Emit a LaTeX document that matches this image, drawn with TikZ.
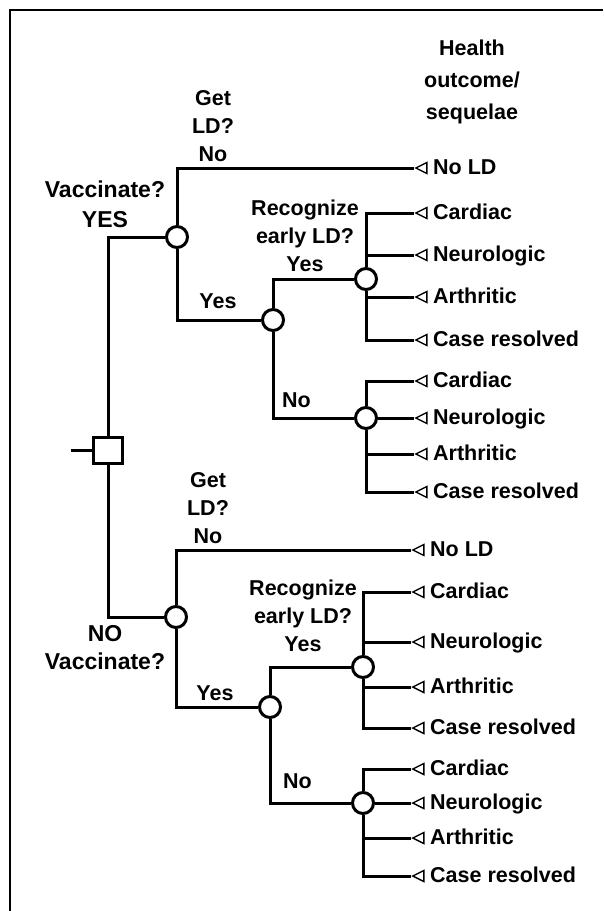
\documentclass[tikz,border=0pt]{standalone}
\usepackage{fontspec}
\setmainfont{Liberation Sans}
\usetikzlibrary{shapes.geometric}

\begin{document}
\begin{tikzpicture}[x=1pt,y=-1pt,
	branch/.style={line width=3pt},
	chance/.style={circle,draw,line width=3pt,fill=white,minimum size=21pt,inner sep=0pt},
	decide/.style={rectangle,draw,line width=3pt,fill=white,minimum width=29pt,minimum height=26pt,inner sep=0pt},
	leaf/.style={isosceles triangle,isosceles triangle stretches,shape border rotate=180,draw,line width=1.4pt,minimum width=11pt,minimum height=11pt,inner sep=0pt,anchor=apex},
	txt/.style={font=\fontsize{21.5}{28}\selectfont\bfseries,inner sep=0pt,align=center}]
	\useasboundingbox (0,0) rectangle (603,911);
	\draw[line width=1.3pt] (10,911)--(10,10)--(603,10);
	
	% decision and chance nodes
	\coordinate (root) at (71,450);
	\node[decide] (dec) at (108,450) {};
	\node[chance] (c1) at (177,237) {};
	\node[chance] (c2) at (273,320) {};
	\node[chance] (c3) at (366,279) {};
	\node[chance] (c4) at (366,418) {};
	\node[chance] (c5) at (176,617) {};
	\node[chance] (c6) at (270,707) {};
	\node[chance] (c7) at (363,667) {};
	\node[chance] (c8) at (363,803) {};
	
	% outcomes
	\foreach \n/\x/\y/\t in {vno/414/168/No LD,
		va1/414/213/Cardiac,va2/414/255/Neurologic,va3/414/297/Arthritic,va4/414/340/Case resolved,
		vb1/414/381/Cardiac,vb2/414/418/Neurologic,vb3/414/454/Arthritic,vb4/414/492/Case resolved,
		nno/411/550/No LD,
		na1/411/592/Cardiac,na2/411/642/Neurologic,na3/411/687/Arthritic,na4/411/728/Case resolved,
		nb1/411/769/Cardiac,nb2/411/803/Neurologic,nb3/411/838/Arthritic,nb4/411/876/Case resolved}{
		\node[leaf] (\n) at (\x,\y) {};
		\node[txt,anchor=base west] (\n-t) at (\x+19,\y+6) {\t};
	}
	
	% branches
	\draw[branch] (root)--(dec.west);
	\draw[branch] (dec.north) |- (c1.west);
	\draw[branch] (dec.south) |- (c5.west);
	\draw[branch] (c1.north) |- (vno.apex);
	\draw[branch] (c1.south) |- (c2.west);
	\draw[branch] (c2.north) |- (c3.west);
	\draw[branch] (c2.south) |- (c4.west);
	\draw[branch] (c3.north) |- (va1.apex) (c3.north) |- (va2.apex)
		(c3.south) |- (va3.apex) (c3.south) |- (va4.apex);
	\draw[branch] (c4.north) |- (vb1.apex) (c4.east) -- (vb2.apex)
		(c4.south) |- (vb3.apex) (c4.south) |- (vb4.apex);
	\draw[branch] (c5.north) |- (nno.apex);
	\draw[branch] (c5.south) |- (c6.west);
	\draw[branch] (c6.north) |- (c7.west);
	\draw[branch] (c6.south) |- (c8.west);
	\draw[branch] (c7.north) |- (na1.apex) (c7.north) |- (na2.apex)
		(c7.south) |- (na3.apex) (c7.south) |- (na4.apex);
	\draw[branch] (c8.north) |- (nb1.apex) (c8.east) -- (nb2.apex)
		(c8.south) |- (nb3.apex) (c8.south) |- (nb4.apex);
	
	% labels
	\node[txt,font=\fontsize{21.5}{32}\selectfont\bfseries,anchor=north] (head) at (472,40) {Health\\outcome/\\sequelae};
	\node[txt,font=\fontsize{23}{30}\selectfont\bfseries,anchor=north] (vacy) at (105,181) {Vaccinate?\\YES};
	\node[txt,anchor=north] (getv) at (213,90) {Get\\LD?\\No};
	\node[txt,anchor=north] (recv) at (305,200) {Recognize\\early LD?\\Yes};
	\node[txt,anchor=base] (yesv) at (218,308) {Yes};
	\node[txt,anchor=base west] (nov) at (282,407) {No};
	\node[txt,font=\fontsize{23}{28}\selectfont\bfseries,anchor=north] (vacn) at (105,625) {NO\\Vaccinate?};
	\node[txt,anchor=north] (getn) at (208,472) {Get\\LD?\\No};
	\node[txt,anchor=north] (recn) at (303,580) {Recognize\\early LD?\\Yes};
	\node[txt,anchor=base] (yesn) at (215,700) {Yes};
	\node[txt,anchor=base west] (non) at (283,788) {No};
\end{tikzpicture}
\end{document}
